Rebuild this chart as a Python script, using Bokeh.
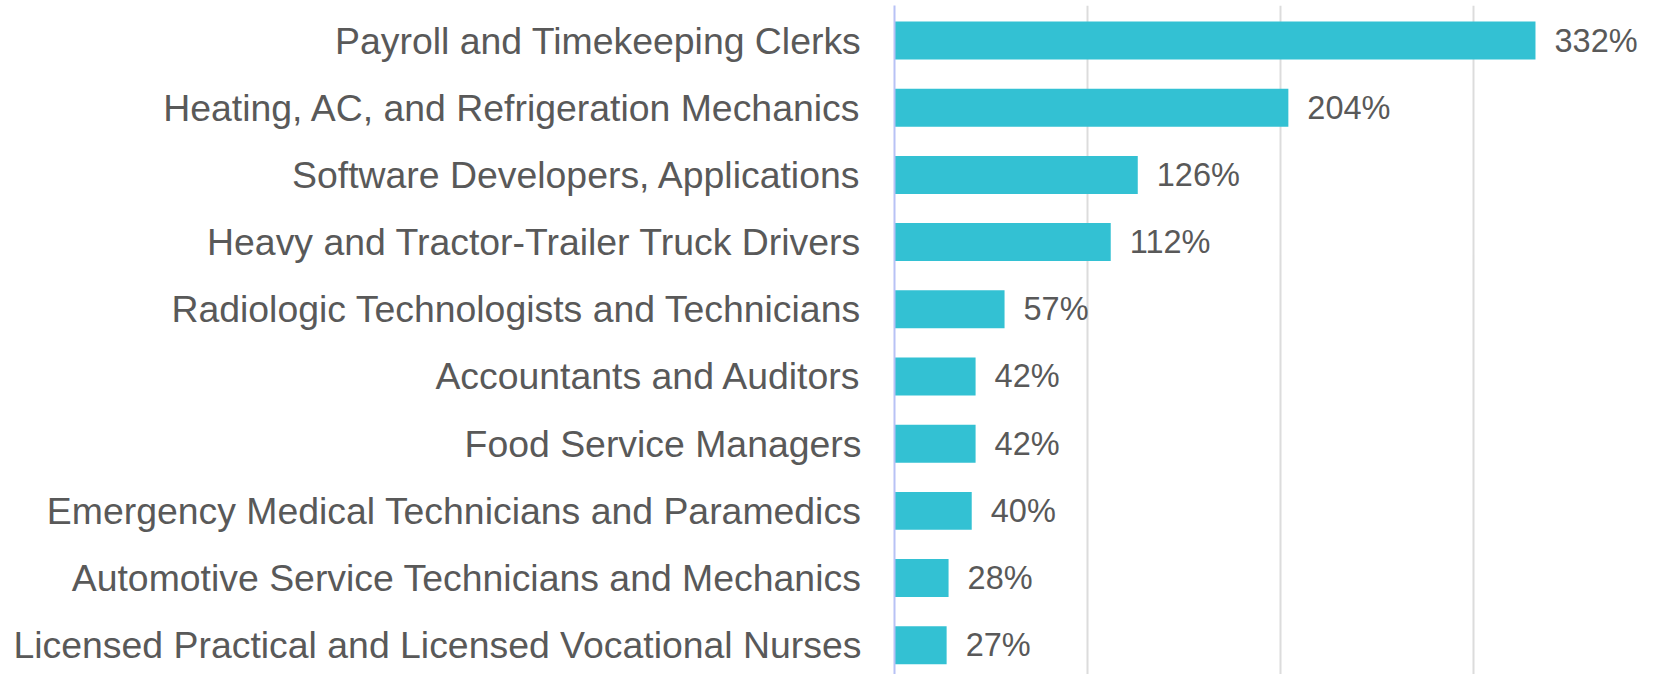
from bokeh.plotting import figure
from bokeh.models import Range1d, FixedTicker, ColumnDataSource
from bokeh.core.properties import value
from bokeh.embed import file_html
from bokeh.resources import INLINE

categories = [
    "Payroll and Timekeeping Clerks",
    "Heating, AC, and Refrigeration Mechanics",
    "Software Developers, Applications",
    "Heavy and Tractor-Trailer Truck Drivers",
    "Radiologic Technologists and Technicians",
    "Accountants and Auditors",
    "Food Service Managers",
    "Emergency Medical Technicians and Paramedics",
    "Automotive Service Technicians and Mechanics",
    "Licensed Practical and Licensed Vocational Nurses",
]
growth_pct = [332, 204, 126, 112, 57, 42, 42, 40, 28, 27]
grid_ticks = [100, 200, 300]

positions = list(range(len(categories)))
labels = [f"{v}%" for v in growth_pct]

src = ColumnDataSource(dict(y=positions, v=growth_pct, lab=labels))

FONT = "Liberation Sans"
GRAY = "#595959"

p = figure(
    width=1657, height=674,
    x_range=Range1d(0, 395.2),
    y_range=Range1d(start=9.435, end=-0.521),
    output_backend="svg", toolbar_location=None,
    min_border_left=894, min_border_right=0, min_border_top=5, min_border_bottom=0,
)
p.outline_line_color = None
p.background_fill_color = "white"
p.border_fill_color = "white"

p.hbar(y="y", right="v", left=0, height=0.565, source=src,
       fill_color="#33C1D3", line_color=None)

p.text(x="v", y="y", text="lab", source=src, x_offset=19,
       text_baseline="middle", text_align="left",
       text_font=value(FONT), text_font_size="32.5px", text_color=GRAY)

p.xaxis.visible = False
p.xgrid.ticker = FixedTicker(ticks=grid_ticks)
p.xgrid.grid_line_color = "#dcdcdc"
p.xgrid.grid_line_width = 2
p.ygrid.visible = False

ya = p.yaxis[0]
ya.ticker = FixedTicker(ticks=positions)
ya.major_label_overrides = {i: c for i, c in zip(positions, categories)}
ya.major_tick_out = 0
ya.major_tick_in = 0
ya.minor_tick_out = 0
ya.minor_tick_in = 0
ya.axis_line_color = "#b8c2f5"
ya.axis_line_width = 2
ya.major_label_standoff = 33
ya.major_label_text_font = FONT
ya.major_label_text_font_size = "37.4px"
ya.major_label_text_color = GRAY

open("out.html", "w").write(file_html(p, INLINE))
